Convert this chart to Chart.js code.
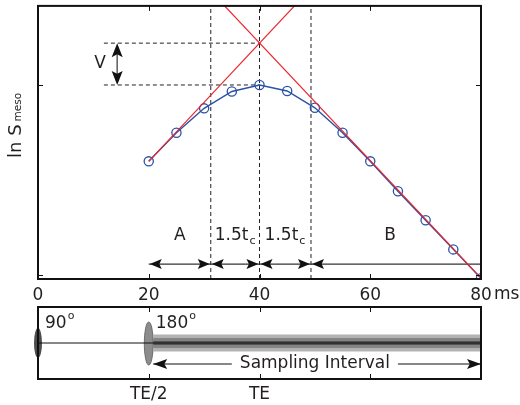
<!DOCTYPE html>
<html>
<head>
<meta charset="utf-8">
<script src="https://cdn.jsdelivr.net/npm/chart.js@4.4.1/dist/chart.umd.min.js"></script>
<style>
  body { margin: 0; background: #fff; }
  #wrap { position: relative; width: 520px; height: 405px; }
  canvas { position: absolute; left: 0; }
</style>
</head>
<body>
<div id="wrap">
  <canvas id="signal" width="520" height="305" style="top:0"></canvas>
  <canvas id="pulses" width="520" height="100" style="top:305px"></canvas>
</div>
<script>
// echo times (ms) and ln of the mesoscopic signal
const echoTimes = [20, 25, 30, 35, 40, 45, 50, 55, 60, 65, 70, 75, 80];
const lnSignal = [4.18, 5.23, 6.13, 6.75, 6.99, 6.77, 6.15, 5.23, 4.18, 3.08, 2.01, 0.94, -0.12];

// the two straight (red) asymptotes
const riseX = [20, 50];
const riseY = [4.18, 10.7];
const fallX = [30, 80];
const fallY = [10.7, -0.12];

const xTicks = [0, 20, 40, 60, 80];
const yTicks = [0, 7];

// region bounds A | 1.5tc | 1.5tc | B
const bounds = [20, 31.2, 40, 49.3, 80];
const regionNames = ['A', '1.5t', '1.5t', 'B'];
const regionSubs = ['', 'c', 'c', ''];
const regionLabelX = [25.6, 35.6, 44.6, 63.6];

const peakLevel = 6.99;
const crossLevel = 8.53;

// lower panel: pulses and sampling window
const pulseTimes = [0, 20];
const pulseNames = ['90', '180'];
const samplingStart = 20.8;
const samplingEnd = 80;
const pulseTicks = [20, 40, 60];
const pulseTickNames = {20: 'TE/2', 40: 'TE'};

const yMin = -0.15, yMax = 9.9;
const blue = '#2b52a6';
const red = '#e8262d';
const ink = '#231f20';
const FONT = 'DejaVu Sans';

function pts(xs, ys) {
  return xs.map((x, i) => ({x: x, y: ys[i]}));
}

function head(ctx, x, y, dx, dy, len, half) {
  // filled arrow head, tip at x,y pointing along dx,dy
  const nx = -dy, ny = dx;
  const bx = x - dx * len, by = y - dy * len;
  const mx = x - dx * len * 0.8, my = y - dy * len * 0.8;
  ctx.beginPath();
  ctx.moveTo(x, y);
  ctx.lineTo(bx + nx * half, by + ny * half);
  ctx.lineTo(mx, my);
  ctx.lineTo(bx - nx * half, by - ny * half);
  ctx.closePath();
  ctx.fill();
}

function line(xs, ys, color, width, dash) {
  return {
    data: pts(xs, ys), borderColor: color, borderWidth: width,
    borderDash: dash || [], pointRadius: 0, fill: false, tension: 0
  };
}

const arrowLevel = 0.40;
const labelLevel = 1.43;
const vArrowX = 14.3;
const dashStart = 11.9;

const datasets = [
  line(riseX, riseY, red, 1.2),
  line(fallX, fallY, red, 1.2),
  {
    data: pts(echoTimes, lnSignal), borderColor: blue, borderWidth: 1.4,
    pointRadius: 4.6, pointBorderColor: blue, pointBorderWidth: 1.3,
    pointBackgroundColor: 'rgba(0,0,0,0)', tension: 0
  }
];
for (let i = 1; i <= 3; i++) {
  datasets.push(line([bounds[i], bounds[i]], [yMin, yMax], '#222', 1, [4, 3]));
}
datasets.push(line([dashStart, 40], [crossLevel, crossLevel], '#222', 1, [4, 3]));
datasets.push(line([dashStart, 40], [peakLevel, peakLevel], '#222', 1, [4, 3]));
datasets.push(line([20, 80], [arrowLevel, arrowLevel], '#333', 1.2));
datasets.push(line([vArrowX, vArrowX], [peakLevel + 0.2, crossLevel - 0.2], '#666', 1.6));

const signalDecor = {
  id: 'signalDecor',
  afterDraw(chart) {
    const ctx = chart.ctx, a = chart.chartArea;
    const xs = chart.scales.x, ys = chart.scales.y;
    ctx.save();
    // inward ticks
    ctx.strokeStyle = '#111';
    ctx.lineWidth = 1;
    xTicks.slice(1, -1).forEach(v => {
      const px = Math.round(xs.getPixelForValue(v)) + 0.5;
      ctx.beginPath();
      ctx.moveTo(px, a.bottom); ctx.lineTo(px, a.bottom - 5);
      ctx.moveTo(px, a.top); ctx.lineTo(px, a.top + 5);
      ctx.stroke();
    });
    yTicks.forEach(v => {
      const py = Math.round(ys.getPixelForValue(v)) + 0.5;
      ctx.beginPath();
      ctx.moveTo(a.left, py); ctx.lineTo(a.left + 5, py);
      ctx.moveTo(a.right, py); ctx.lineTo(a.right - 5, py);
      ctx.stroke();
    });
    // frame
    ctx.lineWidth = 2;
    ctx.strokeStyle = '#111';
    ctx.strokeRect(a.left, a.top, a.right - a.left, a.bottom - a.top);

    // arrow heads along bottom
    ctx.fillStyle = '#111';
    const ay = ys.getPixelForValue(arrowLevel);
    for (let i = 0; i < 3; i++) {
      head(ctx, xs.getPixelForValue(bounds[i]) + 1, ay, -1, 0, 12, 5);
      head(ctx, xs.getPixelForValue(bounds[i + 1]) - 1, ay, 1, 0, 12, 5);
    }
    head(ctx, xs.getPixelForValue(bounds[3]) + 1, ay, -1, 0, 12, 5);

    // V arrow
    const vx = xs.getPixelForValue(vArrowX);
    head(ctx, vx, ys.getPixelForValue(crossLevel), 0, -1, 14, 5.5);
    head(ctx, vx, ys.getPixelForValue(peakLevel), 0, 1, 14, 5.5);

    // texts
    ctx.fillStyle = ink;
    ctx.textBaseline = 'middle';
    ctx.textAlign = 'left';
    const ly = ys.getPixelForValue(labelLevel);
    regionNames.forEach((name, i) => {
      ctx.font = '17px "' + FONT + '"';
      const w1 = ctx.measureText(name).width;
      ctx.font = '11px "' + FONT + '"';
      const w2 = regionSubs[i] ? ctx.measureText(regionSubs[i]).width + 1 : 0;
      const cx = xs.getPixelForValue(regionLabelX[i]);
      const x0 = cx - (w1 + w2) / 2;
      ctx.font = '17px "' + FONT + '"';
      ctx.fillText(name, x0, ly);
      if (regionSubs[i]) {
        ctx.font = '11px "' + FONT + '"';
        ctx.fillText(regionSubs[i], x0 + w1 + 1, ly + 5);
      }
    });
    ctx.font = '17px "' + FONT + '"';
    ctx.textAlign = 'center';
    ctx.fillText('V', xs.getPixelForValue(vArrowX) - 17, (ys.getPixelForValue(crossLevel) + ys.getPixelForValue(peakLevel)) / 2);

    // "ms" unit after the last tick
    ctx.textAlign = 'left';
    ctx.textBaseline = 'middle';
    ctx.fillText('ms', xs.getPixelForValue(80) + 13, a.bottom + 16);

    // y title, ln S_meso
    ctx.translate(21, 158);
    ctx.rotate(-Math.PI / 2);
    ctx.textBaseline = 'alphabetic';
    ctx.font = '18px "' + FONT + '"';
    ctx.fillText('ln S', 0, 0);
    const w = ctx.measureText('ln S').width;
    ctx.font = '10.5px "' + FONT + '"';
    ctx.fillText('meso', w + 3, 0);
    ctx.restore();
  }
};

new Chart(document.getElementById('signal'), {
  type: 'line',
  data: {datasets: datasets},
  options: {
    responsive: false,
    animation: false,
    layout: {padding: {left: 38, right: 39, top: 5, bottom: 0}},
    plugins: {legend: {display: false}, tooltip: {enabled: false}},
    scales: {
      x: {
        type: 'linear', min: 0, max: 80,
        afterBuildTicks: s => { s.ticks = xTicks.map(v => ({value: v})); },
        afterFit: s => { s.height = 26; },
        grid: {display: false, drawTicks: false, tickLength: 0},
        border: {display: false},
        ticks: {
          color: ink, padding: 6, maxRotation: 0, autoSkip: false,
          font: {family: FONT, size: 17},
          callback: v => String(v)
        }
      },
      y: {display: false, min: yMin, max: yMax}
    }
  },
  plugins: [signalDecor]
});

// ---------- lower panel ----------
const samplingLevel = -0.583;
const shaftLeftEnd = 35, shaftRightStart = 65;

const pulseSets = [
  line([0, 80], [0, 0], '#111', 1),
  line([samplingStart, samplingEnd], [0, 0], '#555', 4),
  line([samplingStart, samplingEnd], [0, 0], '#858585', 10),
  line([samplingStart, samplingEnd], [0, 0], '#b3b3b3', 17),
  line([samplingStart, shaftLeftEnd], [samplingLevel, samplingLevel], '#111', 1.2),
  line([shaftRightStart, samplingEnd], [samplingLevel, samplingLevel], '#111', 1.2)
];

const pulseDecor = {
  id: 'pulseDecor',
  beforeDatasetsDraw(chart) {
    const ctx = chart.ctx;
    const xs = chart.scales.x, ys = chart.scales.y;
    const cy = ys.getPixelForValue(0);
    ctx.save();
    // 90 pulse
    let px = xs.getPixelForValue(pulseTimes[0]);
    ctx.fillStyle = '#4d4d4d';
    ctx.beginPath();
    ctx.ellipse(px, cy, 4, 15, 0, 0, Math.PI * 2);
    ctx.fill();
    // 180 pulse
    px = xs.getPixelForValue(pulseTimes[1]);
    ctx.fillStyle = '#8c8c8c';
    ctx.strokeStyle = '#5a5a5a';
    ctx.lineWidth = 0.8;
    ctx.beginPath();
    ctx.ellipse(px, cy + 0.5, 4.5, 21.5, 0, 0, Math.PI * 2);
    ctx.fill();
    ctx.stroke();
    ctx.restore();
  },
  afterDraw(chart) {
    const ctx = chart.ctx, a = chart.chartArea;
    const xs = chart.scales.x, ys = chart.scales.y;
    ctx.save();
    ctx.strokeStyle = '#111';
    ctx.lineWidth = 1;
    pulseTicks.forEach(v => {
      const px = Math.round(xs.getPixelForValue(v)) + 0.5;
      ctx.beginPath();
      ctx.moveTo(px, a.bottom); ctx.lineTo(px, a.bottom - 5);
      ctx.moveTo(px, a.top); ctx.lineTo(px, a.top + 5);
      ctx.stroke();
    });
    ctx.lineWidth = 2;
    ctx.strokeRect(a.left, a.top, a.right - a.left, a.bottom - a.top);

    // sampling interval arrow
    const sy = ys.getPixelForValue(samplingLevel);
    ctx.fillStyle = '#111';
    head(ctx, xs.getPixelForValue(samplingStart), sy, -1, 0, 14, 5);
    head(ctx, xs.getPixelForValue(samplingEnd), sy, 1, 0, 14, 5);
    ctx.fillStyle = ink;
    ctx.font = '17px "' + FONT + '"';
    ctx.textAlign = 'center';
    ctx.textBaseline = 'middle';
    ctx.fillText('Sampling Interval', xs.getPixelForValue((shaftLeftEnd + shaftRightStart) / 2), sy);

    // pulse angles with degree mark
    ctx.textAlign = 'left';
    ctx.textBaseline = 'alphabetic';
    pulseTimes.forEach((t, i) => {
      const x0 = xs.getPixelForValue(t) + 7;
      ctx.font = '17px "' + FONT + '"';
      ctx.fillText(pulseNames[i], x0, a.top + 21);
      const w = ctx.measureText(pulseNames[i]).width;
      ctx.font = '11px "' + FONT + '"';
      ctx.fillText('o', x0 + w + 1, a.top + 12);
    });
    ctx.restore();
  }
};

new Chart(document.getElementById('pulses'), {
  type: 'line',
  data: {datasets: pulseSets},
  options: {
    responsive: false,
    animation: false,
    layout: {padding: {left: 38, right: 39, top: 2, bottom: 0}},
    plugins: {legend: {display: false}, tooltip: {enabled: false}},
    scales: {
      x: {
        type: 'linear', min: 0, max: 80,
        afterBuildTicks: s => { s.ticks = pulseTicks.map(v => ({value: v})); },
        afterFit: s => { s.height = 26; },
        grid: {display: false, drawTicks: false, tickLength: 0},
        border: {display: false},
        ticks: {
          color: ink, padding: 5, maxRotation: 0, autoSkip: false,
          font: {family: FONT, size: 17},
          callback: v => pulseTickNames[v] || ''
        }
      },
      y: {display: false, min: -1, max: 1}
    }
  },
  plugins: [pulseDecor]
});
</script>
</body>
</html>
